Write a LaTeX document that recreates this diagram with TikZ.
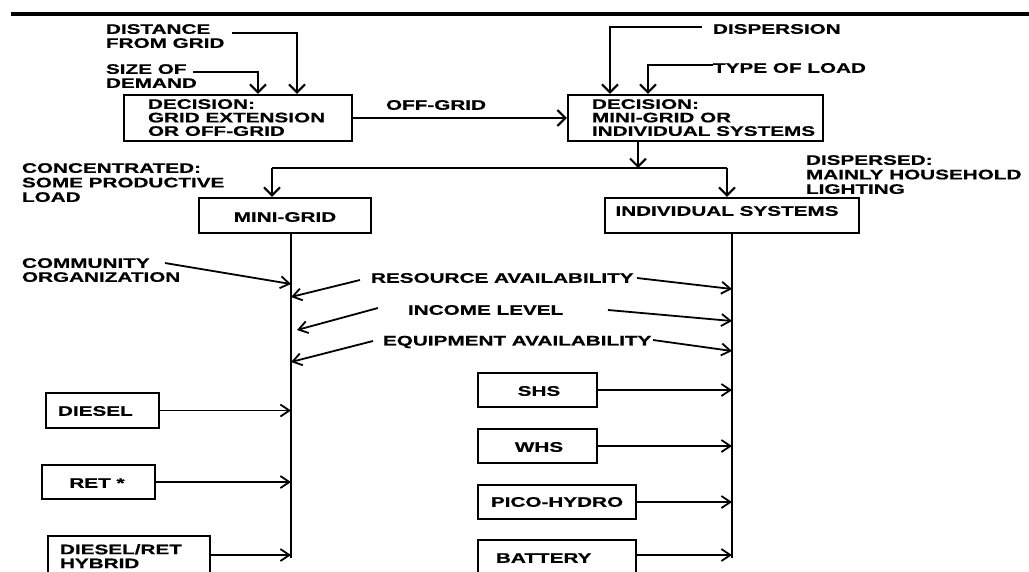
\documentclass[tikz,border=0pt]{standalone}
\usepackage{fontspec}
\newfontfamily\lf{Liberation Sans}[FakeStretch=1.5,FakeBold=0.6]
\usetikzlibrary{arrows.meta,calc}
\tikzset{
  lbl/.style={inner sep=0pt, outer sep=0pt, align=left, font=\lf\bfseries\fontsize{13.8}{14}\selectfont},
  box/.style={draw, line width=2.4pt, inner sep=0pt},
  arr/.style={line width=2pt, -{Straight Barb[length=8pt,width=16pt,line width=2pt]}},
  arrs/.style={line width=1.8pt, -{Straight Barb[length=9pt,width=12pt,line width=1.8pt]}},
  ln/.style={line width=2pt},
  trunk/.style={line width=2.8pt}
}
\begin{document}
\begin{tikzpicture}[x=1pt,y=-1pt]
\clip (0,0) rectangle (1029,571);
\fill[white] (0,0) rectangle (1029,571);
% top bar
\coordinate (barL) at (11,14);
\coordinate (barR) at (1029,14);
\draw[line width=4.5pt] (barL) -- (barR);

% top-left inputs
\node[lbl, anchor=north west] (dist) at (106,24.2) {DISTANCE\\FROM GRID};
\node[lbl, anchor=north west] (size) at (106,64.2) {SIZE OF\\DEMAND};
% decision 1
\node[box, minimum width=228pt, minimum height=46pt] (b1) at (238,118) {};
\node[lbl, anchor=north west, font=\lf\bfseries\fontsize{13.8}{13.5}\selectfont] (b1t) at (148,99.2) {DECISION:\\GRID EXTENSION\\OR OFF-GRID};
\coordinate (distS) at (232,33);
\coordinate (sizeS) at (193,72);
\draw[arr] (distS) -| ([xshift=59pt]b1.north);
\draw[arr] (sizeS) -| ([xshift=20pt]b1.north);

% off-grid
\node[lbl, anchor=west] (offg) at (386,105) {OFF-GRID};
\node[box, minimum width=255pt, minimum height=46pt] (b2) at (695.5,118) {};
\node[lbl, anchor=north west, font=\lf\bfseries\fontsize{13.8}{13.5}\selectfont] (b2t) at (592,99.2) {DECISION:\\MINI-GRID OR\\INDIVIDUAL SYSTEMS};
\draw[arr] (b1.east) -- (b2.west);

% dispersion and type of load
\node[lbl, anchor=west] (disp) at (713,29) {DISPERSION};
\node[lbl, anchor=west] (type) at (713,68) {TYPE OF LOAD};
\coordinate (dispS) at (702,27);
\coordinate (typeS) at (713,65);
\draw[arr] (dispS) -| ([xshift=-85.5pt]b2.north);
\draw[arr] (typeS) -| ([xshift=-47.5pt]b2.north);

% split
\coordinate (split) at (638,168);
\coordinate (splitL) at (272,168);
\coordinate (splitR) at (727,168);
\draw[arr] ([xshift=-57.5pt]b2.south) -- (split);
\draw[ln] (splitL) -- (splitR);

\node[box, minimum width=172pt, minimum height=35pt] (mg) at (285,215.5) {};
\node[lbl] (mgt) at (285,217) {MINI-GRID};
\node[box, minimum width=254pt, minimum height=35pt] (is) at (732,215.5) {};
\node[lbl] (ist) at (727,211) {INDIVIDUAL SYSTEMS};
\draw[arr] (splitL) -- (splitL |- mg.north);
\draw[arr] (splitR) -- (splitR |- is.north);

\node[lbl, anchor=north west, font=\lf\bfseries\fontsize{13.8}{14.5}\selectfont] (conc) at (22,163.2) {CONCENTRATED:\\SOME PRODUCTIVE\\LOAD};
\node[lbl, anchor=north west, font=\lf\bfseries\fontsize{13.8}{14.5}\selectfont] (dispd) at (806,155.2) {DISPERSED:\\MAINLY HOUSEHOLD\\LIGHTING};

% trunks
\coordinate (mgT) at (291,233);
\coordinate (mgB) at (291,558);
\coordinate (isT) at (732,233);
\coordinate (isB) at (732,558);
\draw[trunk] (mgT) -- (mgB);
\draw[trunk] (isT) -- (isB);

% factors
\node[lbl, anchor=north west] (comm) at (22,258.2) {COMMUNITY\\ORGANIZATION};
\node[lbl, anchor=west] (res) at (371,278) {RESOURCE AVAILABILITY};
\node[lbl, anchor=west] (inc) at (408,310) {INCOME LEVEL};
\node[lbl, anchor=west] (equ) at (383,342) {EQUIPMENT AVAILABILITY};
\coordinate (commS) at (165,263);
\coordinate (commE) at (291,284);
\draw[arrs] (commS) -- (commE);
\coordinate (resL) at (360,280);
\coordinate (resLE) at (291,297);
\coordinate (resR) at (637,278);
\coordinate (resRE) at (732,289);
\draw[arrs] (resL) -- (resLE);
\draw[arrs] (resR) -- (resRE);
\coordinate (incL) at (378,308);
\coordinate (incLE) at (297,330);
\coordinate (incR) at (608,310);
\coordinate (incRE) at (732,321);
\draw[arrs] (incL) -- (incLE);
\draw[arrs] (incR) -- (incRE);
\coordinate (equL) at (373,341);
\coordinate (equLE) at (291,362);
\coordinate (equR) at (653,340);
\coordinate (equRE) at (732,351);
\draw[arrs] (equL) -- (equLE);
\draw[arrs] (equR) -- (equRE);

% mini-grid options
\node[box, minimum width=113pt, minimum height=35pt] (dsl) at (102.5,410.5) {};
\node[lbl, anchor=west] (dslt) at (58,411) {DIESEL};
\node[box, minimum width=113pt, minimum height=34pt] (ret) at (98.5,482) {};
\node[lbl] (rett) at (97,483) {RET *};
\node[box, minimum width=162pt, minimum height=64pt] (hyb) at (129,568) {};
\node[lbl, anchor=north west] (hybt) at (60,544.2) {DIESEL/RET\\HYBRID};
\draw[arrs] (dsl.east) -- (dsl.east -| mgT);
\draw[arrs] (ret.east) -- (ret.east -| mgT);
\draw[arrs] ([yshift=13pt]hyb.east) -- ([yshift=13pt]hyb.east -| mgT);

% individual options
\node[box, minimum width=119pt, minimum height=34pt] (shs) at (537.5,390) {};
\node[lbl] (shst) at (539,391) {SHS};
\node[box, minimum width=119pt, minimum height=34pt] (whs) at (537.5,446) {};
\node[lbl] (whst) at (539,447) {WHS};
\node[box, minimum width=158pt, minimum height=34pt] (pico) at (557,502) {};
\node[lbl] (picot) at (557,502) {PICO-HYDRO};
\node[box, minimum width=158pt, minimum height=60pt] (bat) at (557,570) {};
\node[lbl, anchor=west] (batt) at (496,558) {BATTERY};
\draw[arrs] (shs.east) -- (shs.east -| isT);
\draw[arrs] (whs.east) -- (whs.east -| isT);
\draw[arrs] (pico.east) -- (pico.east -| isT);
\draw[arrs] ([yshift=15pt]bat.east) -- ([yshift=15pt]bat.east -| isT);
\end{tikzpicture}
\end{document}
